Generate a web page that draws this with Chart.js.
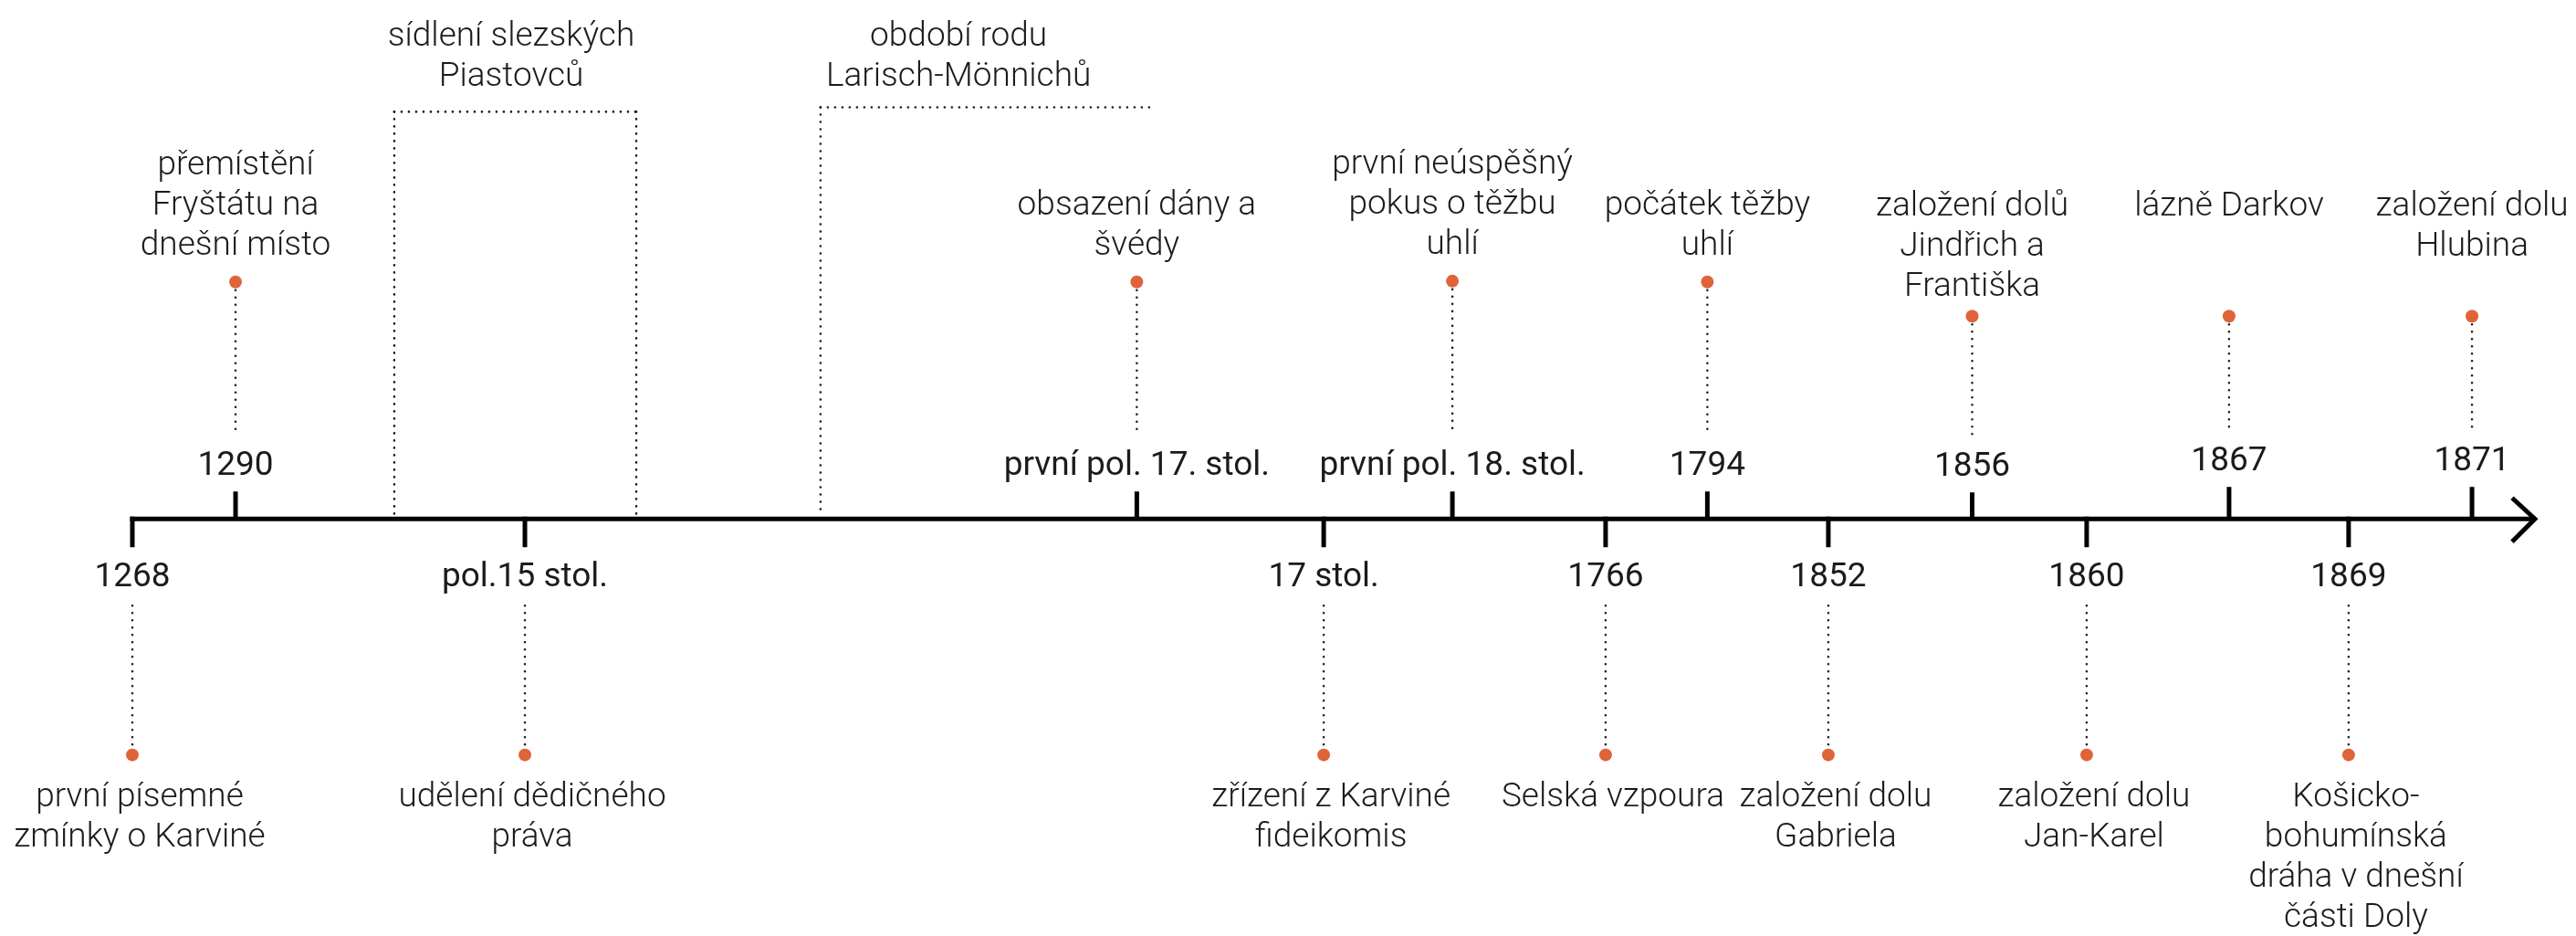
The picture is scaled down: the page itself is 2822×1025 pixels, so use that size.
<!DOCTYPE html>
<html>
<head>
<meta charset="utf-8">
<script src="https://cdn.jsdelivr.net/npm/chart.js@4.4.1/dist/chart.umd.min.js"></script>
<style>
html, body { margin: 0; padding: 0; background: #fff; }
#wrap { width: 2822px; height: 1025px; }
</style>
</head>
<body>
<div id="wrap"><canvas id="timeline"></canvas></div>
<script>
// events above the axis
const topDates = ["1290", "první pol. 17. stol.", "první pol. 18. stol.", "1794", "1856", "1867", "1871"];
const topEvents = [
  ["přemístění", "Fryštátu na", "dnešní místo"],
  ["obsazení dány a", "švédy"],
  ["první neúspěšný", "pokus o těžbu", "uhlí"],
  ["počátek těžby", "uhlí"],
  ["založení dolů", "Jindřich a", "Františka"],
  ["lázně Darkov"],
  ["založení dolu", "Hlubina"]
];
// position along the timeline (0 = start, 100 = arrow) and height of the marker above it
const topPos = [4.29, 41.76, 54.88, 65.48, 76.49, 87.17, 97.27];
const topHeight = [263, 263, 264, 263, 225, 225, 225];

// events below the axis
const bottomDates = ["1268", "pol.15 stol.", "17 stol.", "1766", "1852", "1860", "1869"];
const bottomEvents = [
  ["první písemné", "zmínky o Karviné"],
  ["udělení dědičného", "práva"],
  ["zřízení z Karviné", "fideikomis"],
  ["Selská vzpoura"],
  ["založení dolu", "Gabriela"],
  ["založení dolu", "Jan-Karel"],
  ["Košicko-", "bohumínská", "dráha v dnešní", "části Doly"]
];
const bottomPos = [0, 16.32, 49.53, 61.25, 70.51, 81.25, 92.14];
const bottomHeight = [-262, -262, -262, -262, -262, -262, -262];

// periods (dotted brackets)
const periodLabels = [["sídlení slezských", "Piastovců"], ["období rodu", "Larisch-Mönnichů"]];
const periodStart = [10.89, 28.61];
const periodEnd = [20.95, 42.50];
const periodHeight = [452, 457];
const periodClosed = [true, false];

// layout
const periodLabelPos = [15.75, 34.35];
const topTickLen = [30, 30, 30, 30, 29, 35, 35];
const DOT = '#df643a';
const INK = '#1b1b1b';
const EVENT_FONT = '300 37px Roboto';
const DATE_FONT = '400 37px Roboto';
const LINE_H = 44;

function dotted(ctx, x1, y1, x2, y2) {
  ctx.save();
  ctx.strokeStyle = INK;
  ctx.lineWidth = 2.6;
  ctx.lineCap = 'round';
  ctx.setLineDash([0, 8]);
  ctx.beginPath();
  ctx.moveTo(x1, y1);
  ctx.lineTo(x2, y2);
  ctx.stroke();
  ctx.restore();
}

const timelinePlugin = {
  id: 'timeline',
  beforeDatasetsDraw(chart) {
    const ctx = chart.ctx;
    const xs = chart.scales.x, ys = chart.scales.y;
    const X = v => xs.getPixelForValue(v);
    const Y = v => ys.getPixelForValue(v);
    const y0 = Y(0);

    // axis line + arrow
    ctx.save();
    ctx.strokeStyle = '#000';
    ctx.lineWidth = 5;
    ctx.beginPath();
    ctx.moveTo(X(0) - 2.5, y0);
    ctx.lineTo(X(100) - 3, y0);
    ctx.stroke();
    ctx.lineJoin = 'miter';
    ctx.beginPath();
    ctx.moveTo(X(100) - 28, y0 - 23);
    ctx.lineTo(X(100) - 3, y0);
    ctx.lineTo(X(100) - 28, y0 + 25);
    ctx.stroke();

    // ticks
    topPos.forEach((p, i) => {
      ctx.beginPath();
      ctx.moveTo(X(p), y0);
      ctx.lineTo(X(p), y0 - topTickLen[i]);
      ctx.stroke();
    });
    bottomPos.forEach(p => {
      ctx.beginPath();
      ctx.moveTo(X(p), y0 - 2.5);
      ctx.lineTo(X(p), y0 + 31);
      ctx.stroke();
    });
    ctx.restore();

    // connectors
    topPos.forEach((p, i) => {
      const tickTop = y0 - topTickLen[i];
      dotted(ctx, X(p), Y(topHeight[i]) + 9, X(p), tickTop - 63);
    });
    bottomPos.forEach((p, i) => {
      dotted(ctx, X(p), y0 + 95, X(p), Y(bottomHeight[i]) - 9);
    });

    // period brackets
    periodStart.forEach((s, i) => {
      const top = Y(periodHeight[i]);
      dotted(ctx, X(s), top, X(periodEnd[i]), top);
      dotted(ctx, X(s), top, X(s), y0 - 4);
      if (periodClosed[i]) dotted(ctx, X(periodEnd[i]), top, X(periodEnd[i]), y0 - 4);
    });
  },
  afterDatasetsDraw(chart) {
    const ctx = chart.ctx;
    const xs = chart.scales.x, ys = chart.scales.y;
    const X = v => xs.getPixelForValue(v);
    const Y = v => ys.getPixelForValue(v);
    const y0 = Y(0);
    ctx.save();
    ctx.fillStyle = INK;
    ctx.textAlign = 'center';
    ctx.textBaseline = 'alphabetic';

    // dates
    ctx.font = DATE_FONT;
    topDates.forEach((d, i) => {
      const tickTop = y0 - topTickLen[i];
      ctx.fillText(d, X(topPos[i]), tickTop - 18);
    });
    bottomDates.forEach((d, i) => {
      ctx.fillText(d, X(bottomPos[i]), y0 + 74);
    });

    // event texts
    ctx.font = EVENT_FONT;
    topEvents.forEach((lines, i) => {
      const dotY = Y(topHeight[i]);
      let first;
      if (topHeight[i] < 240) first = dotY - 110;
      else first = dotY - 30 - (lines.length - 1) * LINE_H;
      lines.forEach((l, k) => ctx.fillText(l, X(topPos[i]), first + k * LINE_H));
    });
    bottomEvents.forEach((lines, i) => {
      const dotY = Y(bottomHeight[i]);
      lines.forEach((l, k) => ctx.fillText(l, X(bottomPos[i]) + 8, dotY + 56 + k * LINE_H));
    });

    // period labels
    periodLabels.forEach((lines, i) => {
      lines.forEach((l, k) => ctx.fillText(l, X(periodLabelPos[i]), 50 + k * LINE_H));
    });
    ctx.restore();
  }
};

new Chart(document.getElementById('timeline'), {
  type: 'scatter',
  data: {
    datasets: [
      {
        label: 'nahoře',
        data: topPos.map((p, i) => ({ x: p, y: topHeight[i] })),
        pointRadius: 7,
        pointHoverRadius: 7,
        pointBackgroundColor: DOT,
        pointBorderWidth: 0,
        clip: false
      },
      {
        label: 'dole',
        data: bottomPos.map((p, i) => ({ x: p, y: bottomHeight[i] })),
        pointRadius: 7,
        pointHoverRadius: 7,
        pointBackgroundColor: DOT,
        pointBorderWidth: 0,
        clip: false
      }
    ]
  },
  options: {
    responsive: true,
    maintainAspectRatio: false,
    animation: false,
    layout: { padding: { left: 145, right: 42, top: 0, bottom: 0 } },
    plugins: { legend: { display: false }, tooltip: { enabled: false } },
    scales: {
      x: { type: 'linear', min: 0, max: 100, display: false },
      y: { type: 'linear', min: -456, max: 569, display: false }
    }
  },
  plugins: [timelinePlugin]
});
</script>
</body>
</html>
